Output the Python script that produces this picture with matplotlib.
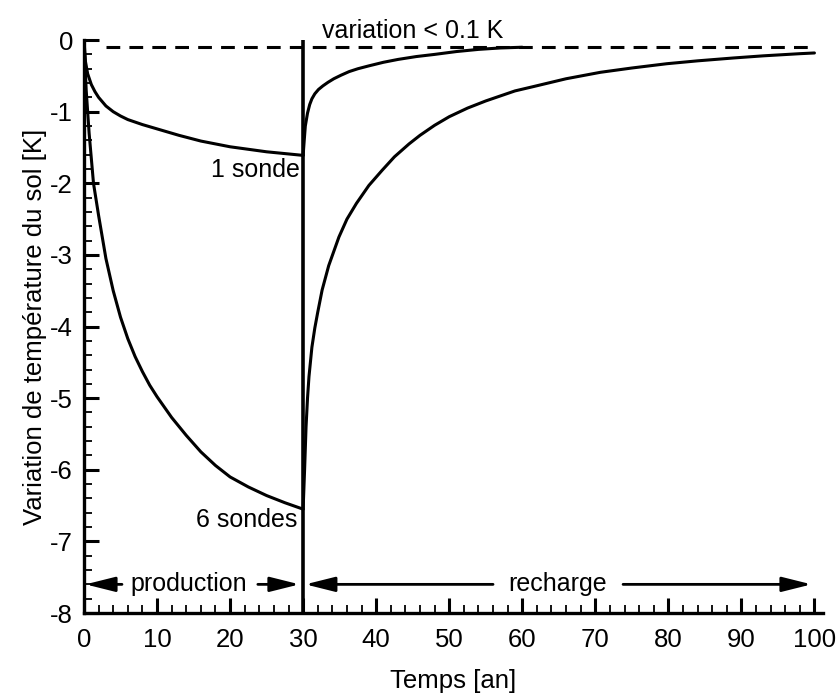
import matplotlib.pyplot as plt
from matplotlib.ticker import MultipleLocator

plt.rcParams['font.family'] = ['Liberation Sans', 'DejaVu Sans']

# --- data ---
# production phase (0-30 years)
t_1p = [0, 0.2, 0.5, 1, 1.5, 2, 3, 4, 5, 6, 8, 10, 13, 16, 20, 25, 30]
v_1p = [0, -0.3, -0.47, -0.62, -0.72, -0.8, -0.92, -1.0, -1.06, -1.11, -1.18, -1.24, -1.33, -1.41, -1.49, -1.56, -1.61]

t_6p = [0, 0.3, 0.7, 1.3, 2, 3, 4, 5, 6, 7, 8, 9, 10, 12, 14, 16, 18, 20, 22.5, 25, 27.5, 30]
v_6p = [0, -0.7, -1.3, -2.0, -2.45, -3.05, -3.5, -3.87, -4.17, -4.42, -4.63, -4.82, -4.98, -5.27,
        -5.52, -5.75, -5.94, -6.1, -6.24, -6.36, -6.46, -6.55]

# recharge phase (30-100 years)
t_1r = [30, 30.15, 30.3, 30.6, 30.9, 31.2, 31.6, 32.1, 32.7, 33.4, 34.2, 35.2, 36.3, 37.5, 39,
        41, 43, 45.5, 48, 51, 54, 57, 60]
v_1r = [-1.61, -1.4, -1.2, -1.02, -0.9, -0.82, -0.75, -0.69, -0.64, -0.59, -0.54, -0.49, -0.44, -0.4, -0.36,
        -0.31, -0.27, -0.23, -0.2, -0.16, -0.13, -0.11, -0.1]

t_6r = [30, 30.2, 30.4, 30.6, 30.8, 31.2, 31.6, 32, 32.6, 33.5, 34.9, 36, 37.3, 39, 40.8, 42.5, 44.5, 46, 48,
        50, 52.5, 55, 57, 59, 61.5, 66, 70.7, 75, 79.8, 84, 88.9, 93, 98, 100]
v_6r = [-6.55, -6.0, -5.4, -5.0, -4.7, -4.29, -4.02, -3.8, -3.49, -3.15, -2.75, -2.5, -2.28, -2.03, -1.82,
        -1.63, -1.45, -1.33, -1.19, -1.07, -0.95, -0.85, -0.78, -0.71, -0.65, -0.54, -0.45, -0.39, -0.33,
        -0.29, -0.25, -0.22, -0.19, -0.18]

threshold = -0.1
t_switch = 30

fig = plt.figure(figsize=(8.4, 6.97), dpi=100)
ax = fig.add_axes([0.1, 0.1205, 0.88, 0.822])

lw = 2.2
for t, v in [(t_1p, v_1p), (t_6p, v_6p), (t_1r, v_1r), (t_6r, v_6r)]:
    ax.plot(t, v, color='black', lw=lw, solid_capstyle='round', solid_joinstyle='round')

# threshold line and production/recharge separator
ax.plot([3, 100], [threshold, threshold], color='black', lw=2.2, linestyle=(0, (4.5, 3)))
ax.plot([t_switch, t_switch], [-8, 0], color='black', lw=2.6)

ax.set_xlim(0, 101.2)
ax.set_ylim(-8, 0)

for s in ['top', 'right']:
    ax.spines[s].set_visible(False)
for s in ['left', 'bottom']:
    ax.spines[s].set_linewidth(2.4)

ax.xaxis.set_major_locator(MultipleLocator(10))
ax.xaxis.set_minor_locator(MultipleLocator(2))
ax.yaxis.set_major_locator(MultipleLocator(1))
ax.yaxis.set_minor_locator(MultipleLocator(0.2))
ax.tick_params(which='major', direction='in', length=11, width=2.2, labelsize=18.5, pad=8)
ax.tick_params(axis='x', which='major', pad=11)
ax.tick_params(which='minor', direction='in', length=6, width=1.3)
ax.set_yticks(range(-8, 1))
ax.set_yticklabels([str(v) for v in range(-8, 1)])

ax.set_xlabel('Temps [an]', fontsize=18.5, labelpad=12)
ax.set_ylabel('Variation de température du sol [K]', fontsize=18.5, labelpad=2)

# annotations
ax.text(29.5, -1.82, '1 sonde', ha='right', va='center', fontsize=18)
ax.text(29.2, -6.7, '6 sondes', ha='right', va='center', fontsize=18)
ax.text(32.6, 0.12, 'variation < 0.1 K', ha='left', va='center', fontsize=18, clip_on=False)

arrow = dict(arrowstyle='-|>,head_length=1.8,head_width=0.45', color='black', lw=2, shrinkA=0, shrinkB=0)
y_arr = -7.6
ax.annotate('', xy=(0.2, y_arr), xytext=(5.2, y_arr), arrowprops=arrow)
ax.annotate('', xy=(29.5, y_arr), xytext=(23.8, y_arr), arrowprops=arrow)
ax.text(14.4, y_arr, 'production', ha='center', va='center', fontsize=18)
ax.annotate('', xy=(30.3, y_arr), xytext=(56.0, y_arr), arrowprops=arrow)
ax.annotate('', xy=(99.6, y_arr), xytext=(73.8, y_arr), arrowprops=arrow)
ax.text(64.8, y_arr, 'recharge', ha='center', va='center', fontsize=18)

plt.savefig('out.png', dpi=100)
